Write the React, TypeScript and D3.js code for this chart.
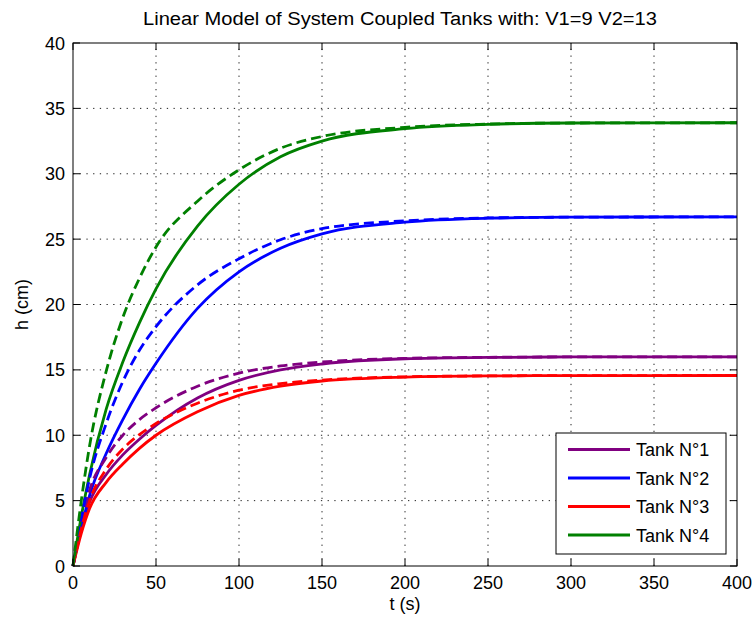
import React from "react";
import * as d3 from "d3";

const times = [0, 5, 10, 20, 30, 40, 50, 75, 100, 125, 150, 200, 250, 300, 400];

const tank1Solid = [0, 2.9, 4.9, 7.0, 8.5, 9.7, 10.75, 12.85, 14.2, 15.0, 15.45, 15.85, 15.95, 15.99, 16.0];
const tank1Dashed = [0, 3.3, 5.8, 8.3, 10.0, 11.2, 12.1, 13.75, 14.75, 15.3, 15.6, 15.88, 15.96, 15.99, 16.0];
const tank2Solid = [0, 2.9, 5.4, 8.6, 11.2, 13.5, 15.5, 19.7, 22.5, 24.3, 25.4, 26.3, 26.6, 26.68, 26.7];
const tank2Dashed = [0, 3.6, 6.7, 10.9, 14.1, 16.5, 18.3, 21.5, 23.5, 24.95, 25.8, 26.4, 26.62, 26.68, 26.7];
const tank3Solid = [0, 2.5, 4.4, 6.4, 7.8, 9.0, 10.0, 11.8, 13.05, 13.75, 14.15, 14.45, 14.54, 14.56, 14.57];
const tank3Dashed = [0, 2.8, 5.0, 7.4, 8.95, 10.05, 10.9, 12.45, 13.45, 13.95, 14.22, 14.47, 14.54, 14.56, 14.57];
const tank4Solid = [0, 3.8, 7.0, 12.0, 15.6, 18.6, 21.2, 26.0, 29.2, 31.3, 32.5, 33.45, 33.78, 33.88, 33.9];
const tank4Dashed = [0, 5.0, 9.2, 14.9, 19.0, 22.0, 24.4, 27.9, 30.3, 31.95, 32.85, 33.55, 33.8, 33.88, 33.9];

const tankNames = ["Tank N°1", "Tank N°2", "Tank N°3", "Tank N°4"];
const tankColors = ["#800080", "#0000ff", "#ff0000", "#008000"];
const solidSeries = [tank1Solid, tank2Solid, tank3Solid, tank4Solid];
const dashedSeries = [tank1Dashed, tank2Dashed, tank3Dashed, tank4Dashed];

const xTicks = [0, 50, 100, 150, 200, 250, 300, 350, 400];
const yTicks = [0, 5, 10, 15, 20, 25, 30, 35, 40];

const titleText = "Linear Model of System Coupled Tanks with: V1=9 V2=13";
const xLabel = "t (s)";
const yLabel = "h (cm)";

const W = 753;
const H = 619;
const L = 73;
const R = 737;
const T = 43;
const B = 566;
const FONT = "Arial, 'Liberation Sans', Helvetica, sans-serif";

export default function App() {
  const x = d3.scaleLinear().domain([0, 400]).range([L, R]);
  const y = d3.scaleLinear().domain([0, 40]).range([B, T]);
  const line = d3
    .line<number>()
    .x((_, i) => x(times[i]))
    .y((d) => y(d))
    .curve(d3.curveMonotoneX);

  const tickLen = 7;
  const legX = 556;
  const legY = 433;
  const legW = 170;
  const legH = 121;
  const rowY = [449.5, 478, 506.5, 535];

  return (
    <svg
      width={W}
      height={H}
      style={{ position: "absolute", left: 0, top: 0, background: "#fff" }}
      fontFamily={FONT}
    >
      <rect x={0} y={0} width={W} height={H} fill="#fff" />
      {/* grid */}
      <g stroke="#222" strokeWidth={1} strokeDasharray="1.3,5.4">
        {xTicks
          .filter((t) => t !== 0 && t !== 400)
          .map((t) => (
            <line key={"gx" + t} x1={x(t)} x2={x(t)} y1={B} y2={T} />
          ))}
        {yTicks
          .filter((t) => t !== 0 && t !== 40)
          .map((t) => (
            <line key={"gy" + t} x1={L} x2={R} y1={y(t)} y2={y(t)} />
          ))}
      </g>
      {/* curves */}
      <g fill="none" strokeWidth={2.8} strokeLinejoin="round">
        {solidSeries.map((s, i) => (
          <path key={"s" + i} d={line(s) || ""} stroke={tankColors[i]} />
        ))}
        {dashedSeries.map((s, i) => (
          <path
            key={"d" + i}
            d={line(s) || ""}
            stroke={tankColors[i]}
            strokeDasharray="10,5"
          />
        ))}
      </g>
      {/* axes box and ticks */}
      <g stroke="#000" strokeWidth={1}>
        <rect x={L} y={T} width={R - L} height={B - T} fill="none" />
        {xTicks.map((t) => (
          <g key={"tx" + t}>
            <line x1={x(t)} x2={x(t)} y1={B} y2={B - tickLen} />
            <line x1={x(t)} x2={x(t)} y1={T} y2={T + tickLen} />
          </g>
        ))}
        {yTicks.map((t) => (
          <g key={"ty" + t}>
            <line x1={L} x2={L + tickLen} y1={y(t)} y2={y(t)} />
            <line x1={R} x2={R - tickLen} y1={y(t)} y2={y(t)} />
          </g>
        ))}
      </g>
      {/* tick labels */}
      <g fontSize={18} fill="#000">
        {xTicks.map((t) => (
          <text key={"lx" + t} x={x(t)} y={589} textAnchor="middle">
            {t}
          </text>
        ))}
        {yTicks.map((t) => (
          <text key={"ly" + t} x={L - 8} y={y(t) + 6.5} textAnchor="end">
            {t}
          </text>
        ))}
      </g>
      <text
        x={143}
        y={25}
        fontSize={18}
        fill="#000"
        textLength={514}
        lengthAdjust="spacingAndGlyphs"
      >
        {titleText}
      </text>
      <text x={(L + R) / 2} y={610} textAnchor="middle" fontSize={18} fill="#000">
        {xLabel}
      </text>
      <text
        transform={`translate(28, ${(T + B) / 2}) rotate(-90)`}
        textAnchor="middle"
        fontSize={18}
        fill="#000"
      >
        {yLabel}
      </text>
      {/* legend */}
      <g>
        <rect x={legX} y={legY} width={legW} height={legH} fill="#fff" stroke="#000" strokeWidth={1} />
        {tankNames.map((n, i) => (
          <g key={"leg" + i}>
            <line x1={568} x2={630} y1={rowY[i]} y2={rowY[i]} stroke={tankColors[i]} strokeWidth={3} />
            <text x={636} y={rowY[i] + 6.5} fontSize={18} fill="#000">
              {n}
            </text>
          </g>
        ))}
      </g>
    </svg>
  );
}
